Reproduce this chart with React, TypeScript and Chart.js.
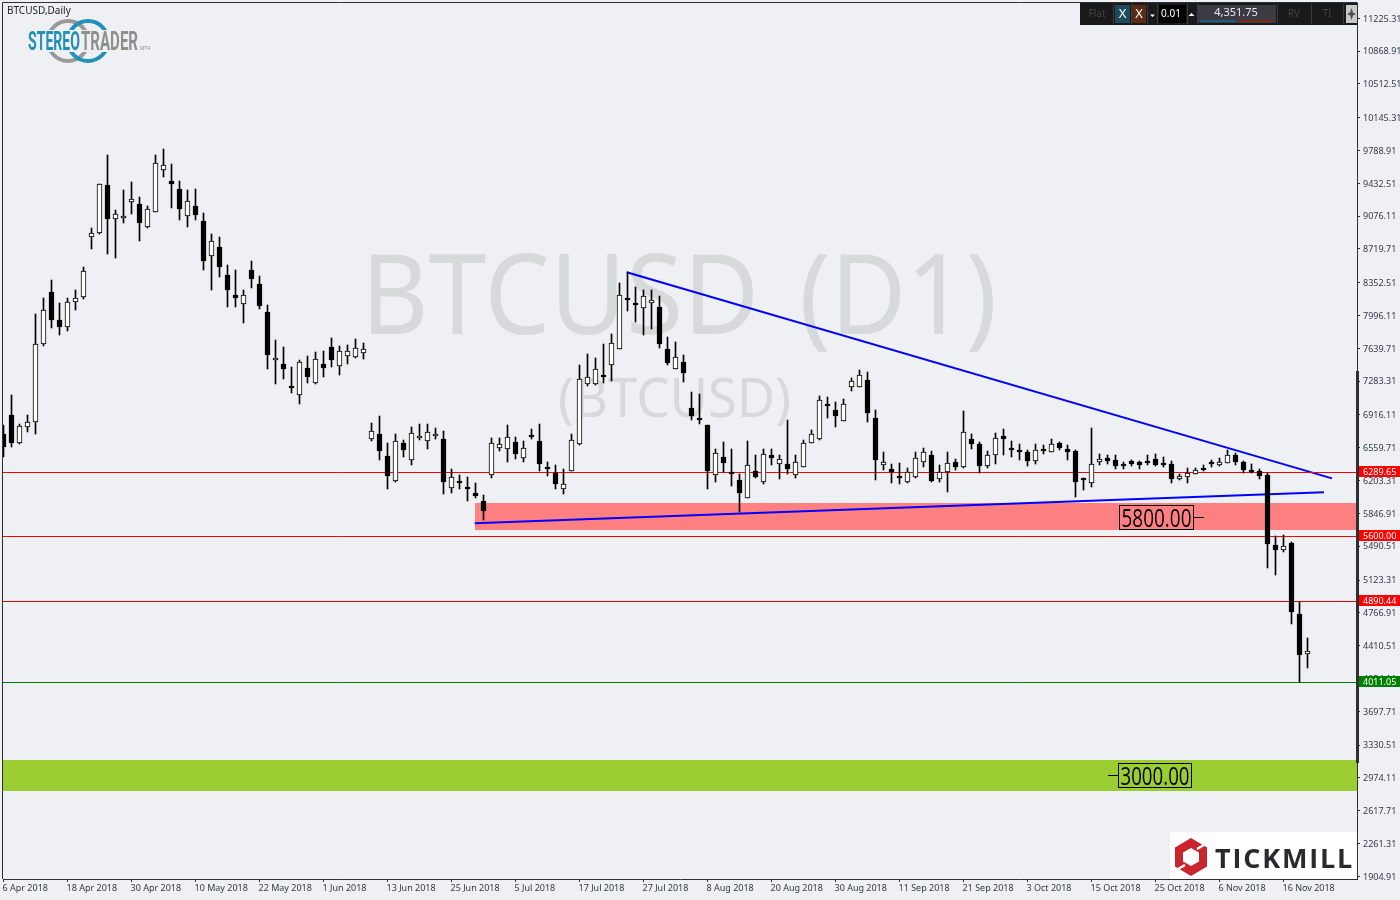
import React, { useEffect, useRef } from "react";
import { Chart, registerables } from "chart.js";

Chart.register(...registerables);

const highs = [
  6804,7130,6815,6913,8010,8191,8379,8130,8191,8271,
  8520,8952,9430,9737,9147,9365,9444,9281,9183,9737,
  9802,9639,9455,9357,9375,9115,8879,8846,8542,8488,
  8271,8586,8423,8108,7728,7652,7434,7518,7554,7597,
  7608,7749,7662,7673,7738,7695,6834,6902,6616,6706,
  6649,6790,6823,6815,6779,6747,6334,6261,6247,6174,
  6044,6671,6663,6804,6677,6638,6761,6815,6402,6377,
  6334,6714,7464,7583,7532,7684,7800,8350,8466,8307,
  8278,8278,8213,7768,7706,7572,7163,7149,6804,6551,
  6620,6543,6280,6630,6478,6551,6543,6478,6866,6486,
  6641,6758,7127,7112,7062,7087,7322,7402,7380,6975,
  6514,6388,6399,6337,6514,6558,6522,6370,6511,6435,
  6956,6706,6623,6522,6717,6768,6630,6598,6533,6598,
  6587,6652,6620,6587,6533,6236,6772,6489,6478,6478,
  6402,6432,6417,6478,6489,6460,6413,6272,6337,6337,
  6370,6432,6446,6533,6503,6417,6381,6326,6286,5606,
  5609,5541,4881,4490,
];
const lows = [
  6460,6568,6598,6731,6714,7662,7858,7785,7829,8053,
  8176,8719,8882,8665,8622,9002,9100,8806,8944,9120,
  9501,9161,9034,8958,9034,8491,8274,8415,8089,8089,
  7915,8296,8068,7413,7250,7304,7155,7032,7264,7250,
  7326,7434,7347,7467,7532,7521,6634,6427,6112,6188,
  6460,6373,6645,6547,6656,6058,6069,6112,5982,6011,
  5772,6236,6525,6406,6438,6410,6656,6305,6253,6117,
  6058,6308,6595,7231,7242,7264,7285,7637,8046,7923,
  7785,7847,7644,7456,7416,7275,6862,6815,6109,6188,
  6297,6145,5862,6019,6228,6163,6370,6221,6275,6232,
  6356,6616,6645,6888,6782,6855,7177,7225,6840,6210,
  6315,6177,6167,6177,6236,6348,6188,6193,6080,6315,
  6340,6543,6290,6340,6381,6486,6457,6424,6367,6388,
  6497,6514,6533,6424,6022,6098,6131,6370,6388,6326,
  6326,6359,6334,6373,6359,6351,6177,6207,6177,6272,
  6305,6351,6362,6395,6377,6290,6286,6218,5251,5175,
  5425,4642,4012,4164,
];
const opens = [
  6706,6913,6612,6786,6840,7692,8257,7952,7872,8144,
  8198,8850,8898,9419,9045,9060,9230,9213,8958,9126,
  9582,9455,9375,9078,9183,9020,8643,8738,8441,8216,
  8122,8488,8336,8039,7514,7474,7235,7133,7431,7264,
  7467,7659,7448,7561,7546,7594,6656,6706,6475,6199,
  6609,6427,6671,6638,6692,6660,6127,6196,6117,6065,
  5986,6269,6558,6551,6627,6453,6696,6638,6348,6283,
  6112,6308,6601,7253,7253,7355,7464,7637,8180,8130,
  8083,8133,8086,7630,7416,7489,6989,6877,6804,6269,
  6457,6283,6214,6019,6312,6188,6478,6384,6388,6269,
  6356,6616,6656,7032,6975,6855,7225,7225,7301,6888,
  6373,6326,6250,6193,6243,6410,6486,6221,6301,6410,
  6351,6660,6605,6366,6486,6692,6543,6540,6519,6417,
  6543,6514,6609,6551,6522,6214,6182,6406,6446,6424,
  6384,6421,6402,6417,6435,6381,6381,6218,6243,6279,
  6340,6406,6370,6395,6486,6402,6301,6305,6261,5501,
  5450,5530,4751,4320,
];
const closes = [
  6568,6612,6793,6844,7692,8061,7945,7872,8148,8191,
  8485,8898,9430,9045,9104,9082,9267,9002,9158,9658,
  9636,9422,9154,9245,9089,8589,8811,8524,8274,8187,
  8224,8393,8100,7568,7540,7416,7209,7496,7329,7529,
  7427,7514,7616,7616,7648,7637,6742,6525,6253,6638,
  6536,6725,6692,6736,6714,6188,6247,6178,6109,6036,
  5873,6616,6605,6681,6492,6562,6677,6384,6330,6167,
  6171,6649,7311,7333,7420,7329,7702,8224,8162,8108,
  8213,8162,7687,7481,7550,7372,6905,6859,6308,6508,
  6395,6275,6069,6377,6243,6497,6449,6442,6330,6410,
  6616,6714,7083,7018,6905,7040,7290,7355,6938,6427,
  6410,6294,6232,6294,6453,6519,6199,6301,6399,6351,
  6736,6601,6362,6482,6671,6656,6536,6514,6417,6540,
  6522,6605,6554,6514,6188,6207,6388,6442,6417,6362,
  6362,6388,6373,6395,6370,6373,6221,6250,6286,6323,
  6319,6381,6402,6486,6406,6315,6294,6253,5515,5450,
  5497,4776,4309,4357,
];

const dateLabels = [
  "6 Apr 2018","18 Apr 2018","30 Apr 2018","10 May 2018","22 May 2018","1 Jun 2018","13 Jun 2018",
  "25 Jun 2018","5 Jul 2018","17 Jul 2018","27 Jul 2018","8 Aug 2018","20 Aug 2018","30 Aug 2018",
  "11 Sep 2018","21 Sep 2018","3 Oct 2018","15 Oct 2018","25 Oct 2018","6 Nov 2018","16 Nov 2018",
];
const barsPerDateLabel = 8;

const priceTicks = [
  11225.31,10868.91,10512.51,10145.31,9788.91,9432.51,9076.11,8719.71,8352.51,7996.11,7639.71,7283.31,
  6916.11,6559.71,6203.31,5846.91,5490.51,5123.31,4766.91,4410.51,4054.11,3697.71,3330.51,2974.11,
  2617.71,2261.31,1904.91,
];

const priceMin = 1875.6;
const priceMax = 11391.6;
const indexMin = -0.0625;
const indexMax = 169.1875;

const levels = [
  { value: 6289.65, color: "#ff0000", tag: "#ff0000" },
  { value: 5600.0, color: "#ff0000", tag: "#ff0000" },
  { value: 4890.44, color: "#e00000", tag: "#ff0000" },
  { value: 4011.05, color: "#008000", tag: "#008000" },
];
const falling = [{ x: 77.9, y: 8466 }, { x: 166.06, y: 6228 }];
const rising = [{ x: 58.9, y: 5740 }, { x: 165.06, y: 6076 }];
const zones = [
  { from: 58.94, top: 5960.1, bottom: 5666.8, color: "#ff8080" },
  { from: indexMin, top: 3168.3, bottom: 2831.5, color: "#9acd32" },
];
const boxedLabels = [
  { text: "5800.00", value: 5800, left: 1119.5, width: 74, leaderFrom: 1193.5, leaderTo: 1204 },
  { text: "3000.00", value: 3000, left: 1118.5, width: 73, leaderFrom: 1108, leaderTo: 1118.5 },
];

const BG = "#eff0f3";
const AXIS = "#2f3033";
const TICK_FONT = { family: "'Noto Sans'", size: 9 };

const decor = {
  id: "decor",
  beforeDraw(chart: any) {
    const c = chart.ctx;
    c.save();
    c.fillStyle = BG;
    c.fillRect(0, 0, 1400, 900);
    c.restore();
  },
  beforeDatasetsDraw(chart: any) {
    const c = chart.ctx;
    const { x, y } = chart.scales;
    const a = chart.chartArea;

    // keep candles and level lines on whole pixel rows, so they stay crisp
    [0, 1].forEach((d) =>
      chart.getDatasetMeta(d).data.forEach((el: any) => {
        el.y = Math.round(el.y);
        el.base = Math.round(el.base);
      })
    );
    levels.forEach((_, i) =>
      chart.getDatasetMeta(i + 2).data.forEach((el: any) => {
        el.y = Math.floor(el.y) + 0.5;
      })
    );

    c.save();
    c.textBaseline = "alphabetic";
    c.fillStyle = "#d7dada";
    c.font = "111px 'Noto Sans'";
    c.wordSpacing = "14px";
    c.fillText("BTCUSD (D1)", 361, 334, 636);
    c.wordSpacing = "0px";
    c.font = "55px 'Noto Sans'";
    c.fillText("(BTCUSD)", 558, 417, 233);
    for (const z of zones) {
      const l = Math.round(x.getPixelForValue(z.from));
      const t = Math.round(y.getPixelForValue(z.top));
      const b = Math.round(y.getPixelForValue(z.bottom));
      c.fillStyle = z.color;
      c.fillRect(l, t, a.right - l, b - t);
    }
    c.restore();
  },
  afterDraw(chart: any) {
    const c = chart.ctx;
    const { y } = chart.scales;
    c.save();

    // frame and the scrollbar-like thick axis segment
    c.strokeStyle = AXIS;
    c.lineWidth = 1;
    c.beginPath();
    c.moveTo(2.5, 879);
    c.lineTo(2.5, 2.5);
    c.lineTo(1357.5, 2.5);
    c.stroke();
    c.fillStyle = AXIS;
    c.fillRect(1356, 371, 3, 392);

    // level tags
    c.textBaseline = "middle";
    for (const lv of levels) {
      const py = Math.floor(y.getPixelForValue(lv.value));
      c.fillStyle = lv.tag;
      c.fillRect(1359, py - 6, 41, 11);
      c.fillStyle = "#ffffff";
      c.font = "9px 'Noto Sans'";
      c.fillText(lv.value.toFixed(2), 1363, py);
    }

    // boxed labels
    for (const b of boxedLabels) {
      const py = Math.floor(y.getPixelForValue(b.value)) + 0.5;
      c.strokeStyle = "#000";
      c.lineWidth = 1;
      c.strokeRect(b.left, py - 12, b.width, 24);
      c.beginPath();
      c.moveTo(b.leaderFrom, py);
      c.lineTo(b.leaderTo, py);
      c.stroke();
      c.fillStyle = "#000";
      c.font = "25px 'Open Sans'";
      c.textBaseline = "alphabetic";
      c.fillText(b.text, b.left + 2, py + 9, b.width - 4);
    }

    // title
    c.fillStyle = "#222";
    c.font = "10px 'Noto Sans'";
    c.textBaseline = "alphabetic";
    c.fillText("BTCUSD,Daily", 7, 14);

    // StereoTrader logo
    const ring = (cx: number, cy: number, col: string) => {
      c.save();
      c.beginPath();
      c.rect(20, 16, 120, 14);
      c.rect(20, 52, 120, 14);
      c.clip();
      c.strokeStyle = col;
      c.lineWidth = 4;
      c.beginPath();
      c.arc(cx, cy, 20, 0, Math.PI * 2);
      c.stroke();
      c.restore();
    };
    ring(68, 41, "#9a9a9a");
    ring(88, 41, "#2191b8");
    c.font = "bold 25px 'Roboto'";
    c.fillStyle = "#2191b8";
    c.fillText("STEREO", 28, 50, 52);
    c.fillStyle = "#8f8f8f";
    c.fillText("TRADER", 81, 50, 57);
    c.font = "5px 'Noto Sans'";
    c.fillText("MT4", 140, 50);

    // Tickmill logo
    c.fillStyle = "#ffffff";
    c.fillRect(1170, 832, 187, 47);
    c.fillStyle = "#c8252c";
    c.beginPath();
    const hx = 1191;
    const hy = 857;
    const hexPts = [[0, -19], [16, -9.5], [16, 9.5], [0, 19], [-16, 9.5], [-16, -9.5]];
    hexPts.forEach((p, i) => (i ? c.lineTo(hx + p[0], hy + p[1]) : c.moveTo(hx + p[0], hy + p[1])));
    c.closePath();
    c.fill();
    c.fillStyle = "#ffffff";
    c.beginPath();
    const inner = [[0, -9], [8, -4.5], [8, 4.5], [0, 9], [-8, 4.5], [-8, -4.5]];
    inner.forEach((p, i) => (i ? c.lineTo(hx + p[0], hy + p[1]) : c.moveTo(hx + p[0], hy + p[1])));
    c.closePath();
    c.fill();
    c.strokeStyle = "#ffffff";
    c.lineWidth = 2.5;
    c.beginPath();
    c.moveTo(hx + 6, hy - 8);
    c.lineTo(hx + 18, hy - 15);
    c.moveTo(hx - 6, hy + 8);
    c.lineTo(hx - 18, hy + 15);
    c.stroke();
    c.fillStyle = "#2a2a2c";
    c.font = "bold 27px 'Open Sans'";
    c.letterSpacing = "1.8px";
    c.fillText("TICKMILL", 1215, 868);
    c.letterSpacing = "0px";

    // toolbar
    c.fillStyle = "#1a1a1c";
    c.fillRect(1080, 3, 277, 22);
    const seps = [1113, 1131, 1147, 1157, 1187, 1197, 1277, 1311, 1343];
    c.fillStyle = "#3a3a3c";
    for (const s of seps) c.fillRect(s, 4, 1, 20);
    c.fillStyle = "#1d4a5c";
    c.fillRect(1115, 5, 15, 18);
    c.fillStyle = "#5a2a12";
    c.fillRect(1132, 5, 14, 18);
    c.fillStyle = "#000";
    c.fillRect(1159, 5, 27, 18);
    c.fillStyle = "#3c3b43";
    c.fillRect(1198, 5, 78, 18);
    c.fillStyle = "#1d5f7f";
    c.fillRect(1200, 20, 35, 2);
    c.fillStyle = "#7a2c12";
    c.fillRect(1239, 20, 34, 2);
    c.fillStyle = "#c9c9c9";
    c.fillRect(1346, 5, 11, 18);
    c.textBaseline = "middle";
    c.textAlign = "center";
    c.fillStyle = "#444";
    c.font = "10px 'Noto Sans'";
    c.fillText("Flat", 1097, 14);
    c.fillText("RV", 1294, 14);
    c.fillText("TI", 1327, 14);
    c.fillStyle = "#ffffff";
    c.font = "13px 'Noto Sans'";
    c.fillText("X", 1122.5, 14);
    c.fillText("X", 1139, 14);
    c.font = "10px 'Noto Sans'";
    c.fillText("0.01", 1171, 14.5);
    c.fillStyle = "#e6e6e6";
    c.font = "11px 'Noto Sans'";
    c.fillText("4,351.75", 1236, 12.5);
    c.fillStyle = "#ffffff";
    c.beginPath();
    c.moveTo(1150, 14.5);
    c.lineTo(1155, 14.5);
    c.lineTo(1152.5, 17);
    c.closePath();
    c.moveTo(1188.5, 16);
    c.lineTo(1194.5, 16);
    c.lineTo(1191.5, 13);
    c.closePath();
    c.fill();
    c.fillStyle = "#555";
    c.beginPath();
    c.moveTo(1351.5, 8);
    c.lineTo(1353, 12.5);
    c.lineTo(1356, 14);
    c.lineTo(1353, 15.5);
    c.lineTo(1351.5, 20);
    c.lineTo(1350, 15.5);
    c.lineTo(1347, 14);
    c.lineTo(1350, 12.5);
    c.closePath();
    c.fill();
    c.restore();
  },
};

export default function App() {
  const ref = useRef<HTMLCanvasElement | null>(null);
  useEffect(() => {
    document.body.style.background = BG;
    const bodies = opens.map((o, i) => ({ x: i, y: [o, closes[i]] }));
    const wicks = highs.map((h, i) => ({ x: i, y: [lows[i], h] }));
    const bodyFill = opens.map((o, i) => (closes[i] > o ? "#ffffff" : "#000000"));
    const lineDs = (data: any[], color: string, width: number) => ({
      type: "line",
      data,
      borderColor: color,
      borderWidth: width,
      pointRadius: 0,
      tension: 0,
      fill: false,
      order: 3,
    });
    const chart = new Chart(ref.current as HTMLCanvasElement, {
      type: "bar",
      data: {
        datasets: [
          {
            data: bodies,
            backgroundColor: bodyFill,
            borderColor: "#000000",
            borderWidth: 1,
            borderSkipped: false,
            barThickness: 5,
            grouped: false,
            order: 1,
            minBarLength: 2,
          },
          {
            data: wicks,
            backgroundColor: "#000000",
            borderWidth: 0,
            barThickness: 1,
            grouped: false,
            order: 2,
          },
          ...levels.map((lv) =>
            lineDs([{ x: indexMin, y: lv.value }, { x: indexMax, y: lv.value }], lv.color, 1)
          ),
          lineDs(falling, "#0000ff", 2),
          lineDs(rising, "#0000ff", 2),
        ] as any,
      },
      options: {
        responsive: false,
        animation: false,
        devicePixelRatio: 1,
        layout: { padding: { left: 3, top: 3, right: 0, bottom: 0 } },
        plugins: { legend: { display: false }, tooltip: { enabled: false }, title: { display: false } },
        scales: {
          x: {
            type: "linear",
            min: indexMin,
            max: indexMax,
            offset: false,
            afterBuildTicks: (s: any) => {
              s.ticks = dateLabels.map((_, i) => ({ value: i * barsPerDateLabel }));
            },
            afterFit: (s: any) => {
              s.height = 21;
              s.paddingLeft = s.paddingRight = s.paddingTop = s.paddingBottom = 0;
            },
            grid: { offset: false, drawOnChartArea: false, drawTicks: true, tickLength: 3, color: AXIS },
            border: { display: true, color: AXIS, width: 1 },
            ticks: {
              autoSkip: false,
              maxRotation: 0,
              minRotation: 0,
              align: "start",
              labelOffset: -1,
              padding: 1,
              color: "#333a4a",
              font: TICK_FONT,
              callback: (_v: any, i: number) => dateLabels[i],
            },
          },
          y: {
            type: "linear",
            position: "right",
            min: priceMin,
            max: priceMax,
            afterBuildTicks: (s: any) => {
              s.ticks = priceTicks.map((value) => ({ value }));
            },
            afterFit: (s: any) => {
              s.width = 43;
              s.paddingLeft = s.paddingRight = s.paddingTop = s.paddingBottom = 0;
            },
            grid: { drawOnChartArea: false, drawTicks: true, tickLength: 3, color: AXIS },
            border: { display: true, color: AXIS, width: 1 },
            ticks: {
              autoSkip: false,
              padding: 3,
              labelOffset: 0.7,
              color: "#333a4a",
              font: TICK_FONT,
              callback: (v: any) => Number(v).toFixed(2),
            },
          },
        },
      } as any,
      plugins: [decor],
    } as any);
    return () => chart.destroy();
  }, []);
  return (
    <div style={{ position: "fixed", left: 0, top: 0, width: 1400, height: 900 }}>
      <canvas ref={ref} width={1400} height={900} style={{ display: "block", width: 1400, height: 900 }} />
    </div>
  );
}
